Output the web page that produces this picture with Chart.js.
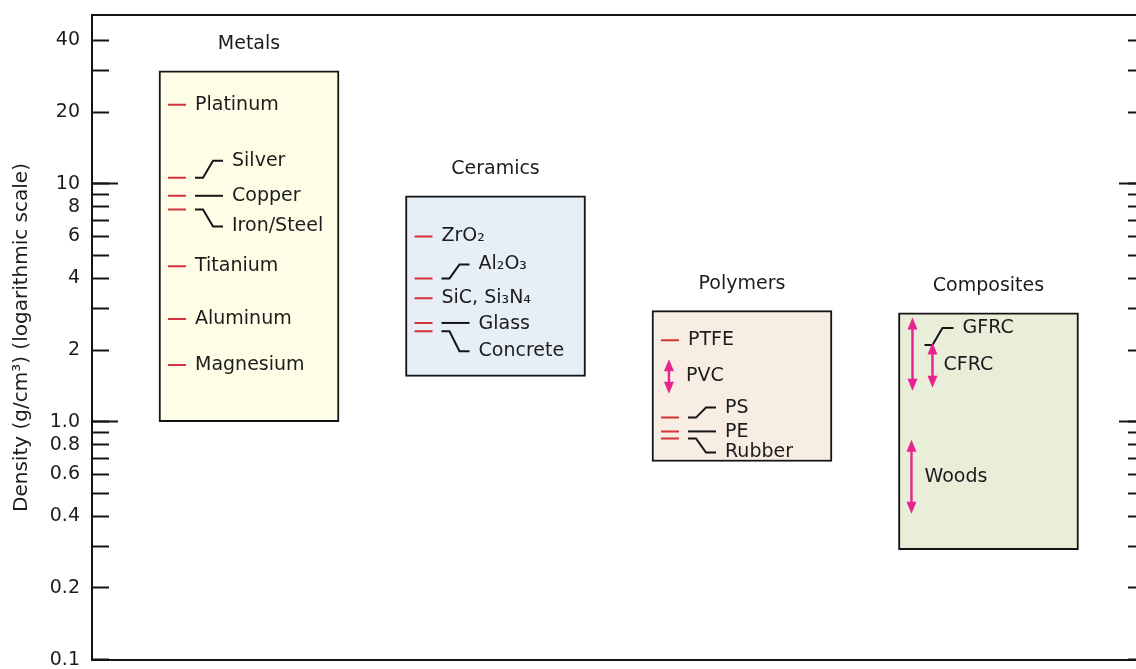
<!DOCTYPE html>
<html><head><meta charset="utf-8">
<script src="https://cdn.jsdelivr.net/npm/chart.js@4"></script>
<style>
html,body{margin:0;padding:0;overflow:hidden;background:#fff;width:1136px;height:669px}
#wrap{position:absolute;left:0;top:-25px;width:1160px;height:725px}
canvas{display:block}
</style></head>
<body><div id="wrap"><canvas id="c" width="1160" height="725" style="width:1160px;height:725px"></canvas></div>
<script>
// ---------- data ----------
const CATEGORIES = ['Metals', 'Ceramics', 'Polymers', 'Composites'];
const BOX_LOW  = [1.0, 1.55, 0.68, 0.29];
const BOX_HIGH = [29.8, 8.9, 2.93, 2.87];

const MATERIALS = ['Platinum', 'Silver', 'Copper', 'Iron/Steel', 'Titanium', 'Aluminum', 'Magnesium',
  'ZrO₂', 'Al₂O₃', 'SiC, Si₃N₄', 'Glass', 'Concrete',
  'PTFE', 'PS', 'PE', 'Rubber'];
const MATERIAL_GROUP = [0, 0, 0, 0, 0, 0, 0, 1, 1, 1, 1, 1, 2, 2, 2, 2];
const MATERIAL_DENSITY = [21.5, 10.6, 8.9, 7.8, 4.5, 2.7, 1.73, 6.0, 4.0, 3.3, 2.6, 2.4, 2.2, 1.04, 0.91, 0.85];

const RANGES = ['PVC', 'GFRC', 'CFRC', 'Woods'];
const RANGE_GROUP = [2, 3, 3, 3];
const RANGE_LOW  = [1.31, 1.35, 1.39, 0.41];
const RANGE_HIGH = [1.83, 2.74, 2.15, 0.84];

const Y_TICKS = [0.1, 0.2, 0.3, 0.4, 0.5, 0.6, 0.7, 0.8, 0.9, 1, 2, 3, 4, 5, 6, 7, 8, 9, 10, 20, 30, 40];
const Y_TICK_LABELS = ['0.1', '0.2', '', '0.4', '', '0.6', '', '0.8', '', '1.0', '2', '', '4', '', '6', '', '8', '', '10', '20', '', '40'];
const Y_LONG_TICKS = [1, 10];
const Y_TITLE = 'Density (g/cm³) (logarithmic scale)';

// ---------- style ----------
const FONT_FAMILY = '"DejaVu Sans", sans-serif';
const TEXT = '#1c1c1c';
const AXIS = '#141414';
const RED = '#d6323d';
const PINK = '#e8228e';
const BOX_FILL = ['#fefee6', '#e6eef6', '#f7ede3', '#e9eed9'];
const X_MIN = -0.637, X_MAX = 3.635;
const Y_MIN = 0.1, Y_MAX = 51;
const MARK_DX = -0.292;       // marker offset from category centre (x units)
const PLAIN_DX = -54;          // px
const CAT_GAP = 27;            // px above box top
const LABEL_STYLE = {
  'Silver': {lx: -17, ly: -17, conn: true},
  'Copper': {lx: -17, ly: 0, conn: true},
  'Iron/Steel': {lx: -17, ly: 17, conn: true},
  'Al₂O₃': {lx: -17, ly: -14, conn: true},
  'Glass': {lx: -17, ly: 1, conn: true},
  'Concrete': {lx: -17, ly: 20, conn: true},
  'PS': {lx: -17, ly: -10, conn: true},
  'PE': {lx: -17, ly: 1, conn: true},
  'Rubber': {lx: -17, ly: 14, conn: true},
  'PVC': {lx: -56},
  'GFRC': {lx: -26, ly: -26, cx: -64, cy: -9, conn: true},
  'CFRC': {lx: -45},
  'Woods': {lx: -64}
};
const ARROW_DX = {'PVC': -73, 'GFRC': -76, 'CFRC': -56, 'Woods': -77};

const annotate = {
  id: 'annotate',
  afterDatasetsDraw(chart) {
    const {ctx, scales: {x, y}} = chart;
    ctx.save();
    ctx.font = '19px ' + FONT_FAMILY;
    ctx.fillStyle = TEXT;
    ctx.textBaseline = 'middle';
    ctx.textAlign = 'center';
    CATEGORIES.forEach((c, i) => {
      ctx.fillText(c, x.getPixelForValue(i), y.getPixelForValue(BOX_HIGH[i]) - CAT_GAP);
    });
    ctx.textAlign = 'left';
    const drawLabel = (name, cx, ay) => {
      const s = LABEL_STYLE[name] || {};
      const lx = cx + (s.lx ?? PLAIN_DX);
      const ly = ay + (s.ly ?? 0);
      if (s.conn) {
        const x0 = cx + (s.cx ?? PLAIN_DX);
        const y0 = ay + (s.cy ?? 0);
        const yEnd = Math.abs(ly - y0) < 3 ? y0 : ly;
        ctx.beginPath();
        ctx.strokeStyle = AXIS; ctx.lineWidth = 2;
        ctx.moveTo(x0, y0);
        ctx.lineTo(x0 + 8, y0);
        ctx.lineTo(x0 + 18, yEnd);
        ctx.lineTo(lx - 9, yEnd);
        ctx.stroke();
      }
      ctx.fillStyle = TEXT;
      ctx.fillText(name, lx, ly);
    };
    MATERIALS.forEach((m, i) => {
      drawLabel(m, x.getPixelForValue(MATERIAL_GROUP[i]), y.getPixelForValue(MATERIAL_DENSITY[i]));
    });
    RANGES.forEach((r, i) => {
      const cx = x.getPixelForValue(RANGE_GROUP[i]);
      const yt = y.getPixelForValue(RANGE_HIGH[i]);
      const yb = y.getPixelForValue(RANGE_LOW[i]);
      const xp = cx + ARROW_DX[r];
      const h = 12, w = 5;
      ctx.strokeStyle = PINK; ctx.fillStyle = PINK; ctx.lineWidth = 2.4;
      ctx.beginPath(); ctx.moveTo(xp, yt + h - 2); ctx.lineTo(xp, yb - h + 2); ctx.stroke();
      ctx.beginPath(); ctx.moveTo(xp, yt); ctx.lineTo(xp - w, yt + h); ctx.lineTo(xp + w, yt + h); ctx.closePath(); ctx.fill();
      ctx.beginPath(); ctx.moveTo(xp, yb); ctx.lineTo(xp - w, yb - h); ctx.lineTo(xp + w, yb - h); ctx.closePath(); ctx.fill();
      drawLabel(r, cx, (yt + yb) / 2);
    });
    ctx.restore();
  }
};

const setTicks = (vals) => (s) => { s.ticks = vals.map(v => ({value: v})); };
const logBase = {type: 'logarithmic', min: Y_MIN, max: Y_MAX};
const tickGrid = (len) => ({display: true, drawOnChartArea: false, drawTicks: true, tickLength: len, tickWidth: 2, tickColor: AXIS});

new Chart(document.getElementById('c'), {
  type: 'bar',
  data: {
    datasets: [
      {
        type: 'bar',
        order: 2,
        data: CATEGORIES.map((c, i) => ({x: i, y: [BOX_LOW[i], BOX_HIGH[i]]})),
        backgroundColor: BOX_FILL,
        borderColor: AXIS,
        borderWidth: 2,
        borderSkipped: false,
        barThickness: 180,
        xAxisID: 'x', yAxisID: 'y'
      },
      {
        type: 'scatter',
        order: 1,
        data: MATERIALS.map((m, i) => ({x: MATERIAL_GROUP[i] + MARK_DX, y: MATERIAL_DENSITY[i]})),
        pointStyle: 'line',
        pointRadius: 9,
        pointHoverRadius: 9,
        borderColor: RED,
        pointBorderColor: RED,
        borderWidth: 2,
        pointBorderWidth: 2,
        xAxisID: 'x', yAxisID: 'y'
      }
    ]
  },
  options: {
    responsive: false,
    animation: false,
    events: [],
    devicePixelRatio: 1,
    layout: {padding: 0},
    plugins: {legend: {display: false}, tooltip: {enabled: false}},
    scales: {
      x: {type: 'linear', position: 'bottom', min: X_MIN, max: X_MAX, offset: false,
          ticks: {display: false}, grid: {display: false, drawTicks: false, offset: false},
          border: {display: true, width: 2, color: AXIS},
          afterFit(s) { s.height = 12; }},
      x2: {type: 'linear', position: 'top', min: X_MIN, max: X_MAX, offset: false,
          ticks: {display: false}, grid: {display: false, drawTicks: false, offset: false},
          border: {display: true, width: 2, color: AXIS},
          afterFit(s) { s.height = 15; }},
      y: {...logBase, position: 'left',
          afterBuildTicks: setTicks(Y_TICKS),
          ticks: {autoSkip: false, padding: 29, color: TEXT,
                  font: {family: FONT_FAMILY, size: 19},
                  callback: (v, i) => Y_TICK_LABELS[i]},
          grid: tickGrid(-17),
          border: {display: true, width: 2, color: AXIS},
          title: {display: true, text: Y_TITLE, color: TEXT,
                  font: {family: FONT_FAMILY, size: 20}, padding: {top: 10, bottom: 0}},
          afterFit(s) { s.width = 92; }},
      yL: {...logBase, position: 'left', weight: -1,
          afterBuildTicks: setTicks(Y_LONG_TICKS),
          ticks: {display: false}, grid: tickGrid(-26), border: {display: false},
          afterFit(s) { s.width = 0; }},
      y2: {...logBase, position: 'right',
          afterBuildTicks: setTicks(Y_TICKS),
          ticks: {display: false}, grid: tickGrid(-17),
          border: {display: true, width: 2, color: AXIS},
          afterFit(s) { s.width = 15; }},
      yR: {...logBase, position: 'right', weight: -1,
          afterBuildTicks: setTicks(Y_LONG_TICKS),
          ticks: {display: false}, grid: tickGrid(-26), border: {display: false},
          afterFit(s) { s.width = 0; }}
    }
  },
  plugins: [annotate]
});
</script>
</body></html>
